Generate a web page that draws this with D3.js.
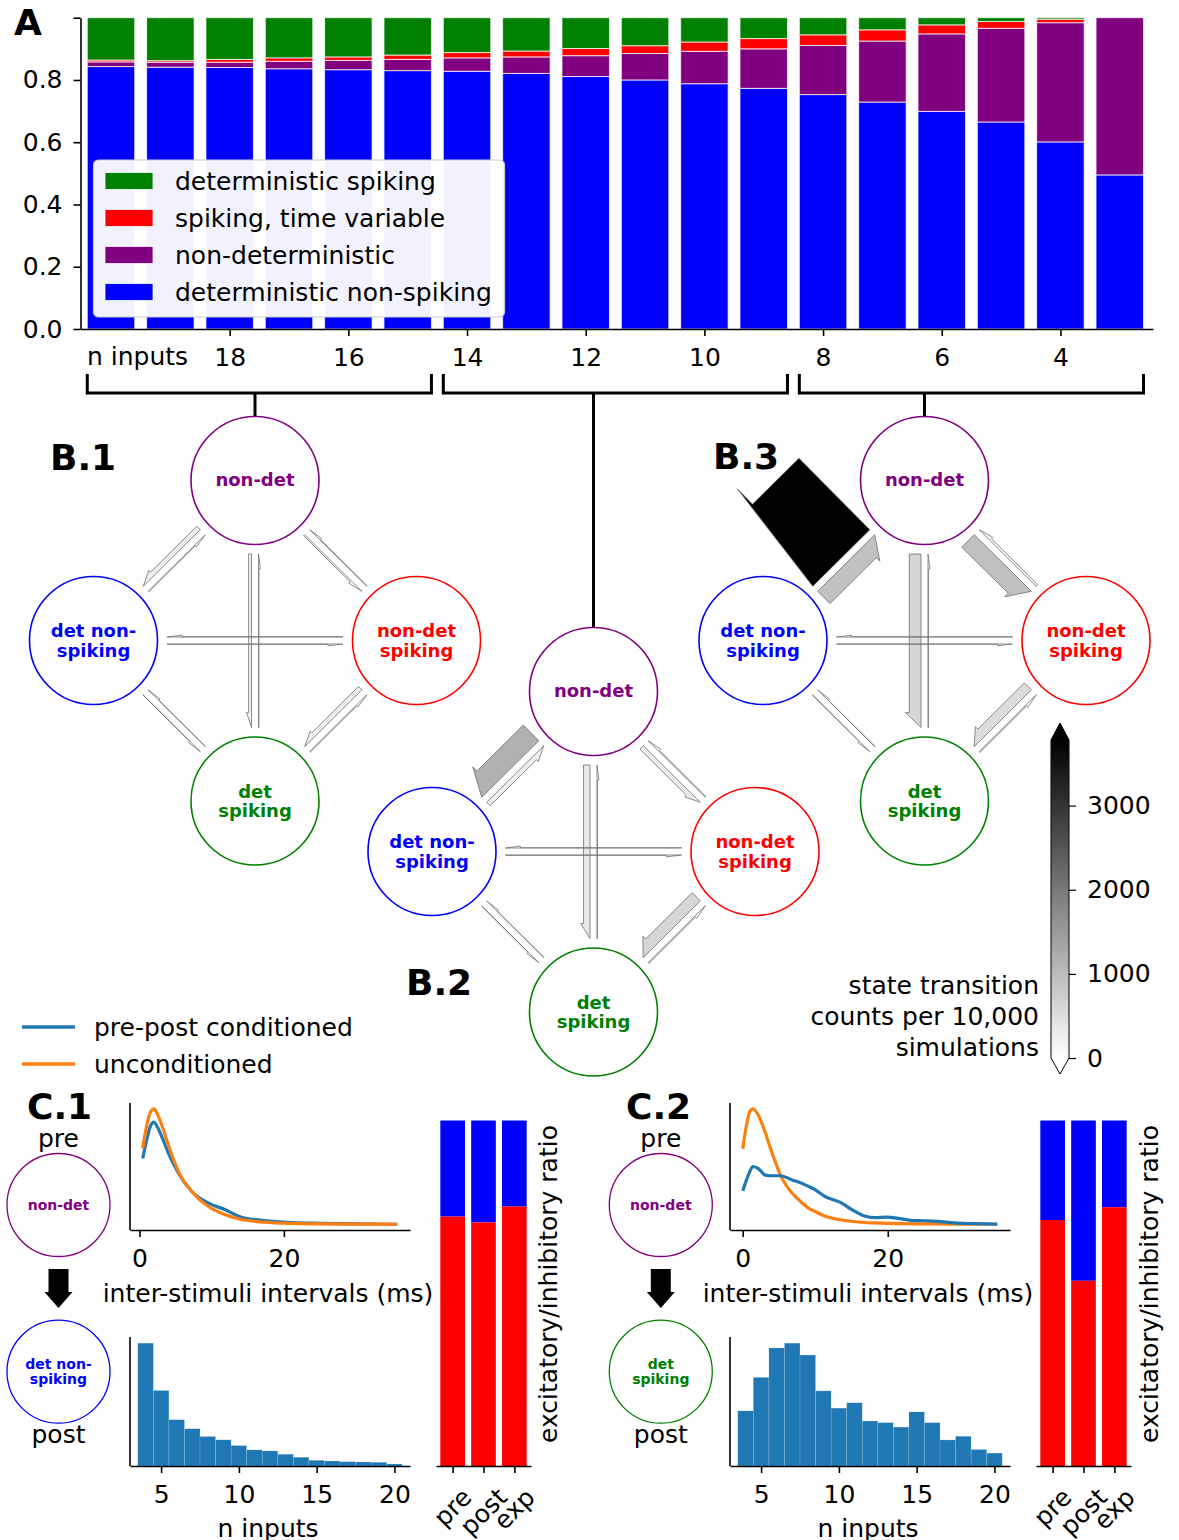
<!DOCTYPE html>
<html>
<head>
<meta charset="utf-8">
<script src="https://cdn.jsdelivr.net/npm/d3@7"></script>
<style>
  body { margin: 0; background: #fff; }
  svg text { font-family: "DejaVu Sans", sans-serif; }
</style>
</head>
<body>
<svg id="fig" width="1179" height="1540"></svg>
<script>
// ================= Panel A: state shares per number of inputs =================
const nInputs = [20, 19, 18, 17, 16, 15, 14, 13, 12, 11, 10, 9, 8, 7, 6, 5, 4, 3];
const shareDetNonSpiking = [0.843, 0.841, 0.840, 0.836, 0.833, 0.830, 0.828, 0.821, 0.811, 0.800, 0.788, 0.773, 0.753, 0.729, 0.699, 0.665, 0.601, 0.495];
const shareNonDet        = [0.015, 0.016, 0.017, 0.024, 0.030, 0.036, 0.043, 0.053, 0.067, 0.085, 0.104, 0.127, 0.158, 0.196, 0.249, 0.301, 0.383, 0.505];
const shareSpikingVar    = [0.006, 0.005, 0.009, 0.011, 0.011, 0.014, 0.017, 0.019, 0.023, 0.025, 0.030, 0.033, 0.034, 0.036, 0.029, 0.022, 0.011, 0.000];
const shareDetSpiking    = [0.136, 0.138, 0.134, 0.129, 0.126, 0.120, 0.112, 0.107, 0.099, 0.090, 0.078, 0.067, 0.055, 0.039, 0.023, 0.012, 0.005, 0.000];
const stateKeys   = ["detNonSpiking", "nonDet", "spikingVar", "detSpiking"];
const stateLabels = ["deterministic non-spiking", "non-deterministic", "spiking, time variable", "deterministic spiking"];
const stateColors = ["#0000ff", "#800080", "#ff0000", "#008000"];
const nTickValues = [18, 16, 14, 12, 10, 8, 6, 4];
const shareTickValues = [0, 0.2, 0.4, 0.6, 0.8, 1.0];
// groups of bars summarised by each transition diagram
const groupRanges = [[20, 15], [14, 9], [8, 3]];

// ================= Panel B: state transition counts =================
const nodeKeys = ["ND", "DNS", "NDS", "DS"];
const nodeText = { ND: ["non-det"], DNS: ["det non-", "spiking"], NDS: ["non-det", "spiking"], DS: ["det", "spiking"] };
const nodeColor = { ND: "#800080", DNS: "#0000ff", NDS: "#ff0000", DS: "#008000" };
const transFrom = ["ND", "DNS", "ND", "NDS", "ND", "DS", "DNS", "NDS", "DNS", "DS", "NDS", "DS"];
const transTo   = ["DNS", "ND", "NDS", "ND", "DS", "ND", "NDS", "DNS", "DS", "DNS", "DS", "NDS"];
const countsB1 = [260, 40, 80, 30, 150, 20, 15, 15, 15, 15, 250, 40];
const countsB2 = [1160, 260, 250, 60, 340, 20, 15, 15, 20, 15, 610, 60];
const countsB3 = [5300, 915, 930, 120, 615, 20, 10, 10, 20, 15, 520, 60];
const colorbarTicks = [0, 1000, 2000, 3000];
const colorMax = 3780;

// ================= Panel C: example transitions =================
const isiTimesC1 = [0.45, 1.0, 1.5, 2.0, 2.5, 3.1, 4.0, 5.4, 7.25, 9.5, 11.8, 14.1, 17.3, 21, 25, 30, 35.7];
const isiCondC1   = [0.570, 0.728, 0.848, 0.885, 0.840, 0.757, 0.617, 0.443, 0.285, 0.186, 0.129, 0.063, 0.034, 0.017, 0.010, 0.005, 0.002];
const isiUncondC1 = [0.657, 0.857, 0.968, 1.000, 0.951, 0.857, 0.686, 0.457, 0.285, 0.157, 0.086, 0.043, 0.020, 0.009, 0.005, 0.003, 0.002];
const isiTimesC2 = [0, 0.5, 1.0, 1.4, 2.2, 3.1, 4.0, 5.2, 6.8, 8.1, 9.0, 10, 11.3, 13.6, 15, 16.8, 18.2, 20, 21.4, 23.2, 25, 27.3, 29.6, 32, 35.1];
const isiCondC2   = [0.290, 0.380, 0.460, 0.500, 0.480, 0.425, 0.420, 0.420, 0.384, 0.356, 0.330, 0.298, 0.241, 0.185, 0.128, 0.071, 0.057, 0.062, 0.051, 0.034, 0.030, 0.023, 0.009, 0.005, 0.001];
const isiUncondC2 = [0.654, 0.853, 0.980, 1.000, 0.938, 0.795, 0.625, 0.426, 0.270, 0.190, 0.142, 0.110, 0.071, 0.037, 0.026, 0.015, 0.011, 0.007, 0.005, 0.004, 0.003, 0.002, 0.001, 0.001, 0.000];
const histBins = [4, 5, 6, 7, 8, 9, 10, 11, 12, 13, 14, 15, 16, 17, 18, 19, 20];
const histCountsC1 = [1220, 750, 460, 370, 293, 260, 203, 160, 150, 117, 87, 57, 50, 43, 40, 37, 20];
const histCountsC2 = [543, 873, 1163, 1210, 1093, 740, 570, 623, 443, 427, 383, 533, 427, 257, 293, 163, 127];
const eiGroups = ["pre", "post", "exp"];
const excitShareC1 = [0.722, 0.705, 0.751];
const excitShareC2 = [0.712, 0.536, 0.749];
const isiTicks = [0, 20];
const nInputTicks = [5, 10, 15, 20];

// ================================================================
const svg = d3.select("#fig");
const FS = 25;
const blueMpl = "#1f77b4", orangeMpl = "#ff7f0e";

function styleAxis(g, fs) {
  g.selectAll("path.domain").attr("stroke", "#000").attr("stroke-width", 1.6);
  g.selectAll(".tick line").attr("stroke", "#000").attr("stroke-width", 1.6);
  g.selectAll(".tick text").attr("fill", "#000").attr("font-size", fs || FS)
    .attr("font-family", "DejaVu Sans, sans-serif");
}

// ---------------- Panel A ----------------
const xA = d3.scaleLinear().domain([20.514, 2.44]).range([80.5, 1153]);
const yA = d3.scaleLinear().domain([0, 1]).range([329, 17.7]);
const barW = 0.8 * (xA(19) - xA(20));

const tableA = nInputs.map((n, i) => ({
  n,
  detNonSpiking: shareDetNonSpiking[i],
  nonDet: shareNonDet[i],
  spikingVar: shareSpikingVar[i],
  detSpiking: shareDetSpiking[i]
}));
const stackA = d3.stack().keys(stateKeys)(tableA);
const gA = svg.append("g");
gA.selectAll("g.layer").data(stackA).join("g").attr("class", "layer")
  .attr("fill", (d, i) => stateColors[i])
  .selectAll("rect").data(d => d).join("rect")
  .attr("x", d => xA(d.data.n) - barW / 2)
  .attr("width", barW)
  .attr("y", d => yA(d[1]))
  .attr("height", d => Math.max(0, yA(d[0]) - yA(d[1])))
  .attr("stroke", "#ffffff").attr("stroke-opacity", 0.75).attr("stroke-width", 1);

const axAy = gA.append("g").attr("transform", `translate(${xA.range()[0]},0)`)
  .call(d3.axisLeft(yA).tickValues(shareTickValues)
    .tickFormat(d => d === 1 ? "" : d3.format(".1f")(d))
    .tickSize(7).tickSizeOuter(0).tickPadding(11));
styleAxis(axAy);
const axAx = gA.append("g").attr("transform", `translate(0,${yA(0)})`)
  .call(d3.axisBottom(xA).tickValues(nTickValues).tickFormat(d3.format("d"))
    .tickSize(7).tickSizeOuter(0).tickPadding(12));
styleAxis(axAx);
gA.append("text").attr("x", 87).attr("y", 365).attr("font-size", FS).text("n inputs");
svg.append("text").attr("x", 14).attr("y", 35).attr("font-size", 36).attr("font-weight", "bold").text("A");

// legend of panel A
const legA = gA.append("g");
legA.append("rect").attr("x", 93.5).attr("y", 160).attr("width", 411).attr("height", 157)
  .attr("rx", 5).attr("fill", "#fff").attr("fill-opacity", 0.95)
  .attr("stroke", "#cccccc").attr("stroke-width", 1.2);
const legOrder = [3, 2, 1, 0];
legOrder.forEach((k, j) => {
  const cy = 181 + j * 37;
  legA.append("rect").attr("x", 105).attr("y", cy - 8.5).attr("width", 48).attr("height", 17)
    .attr("fill", stateColors[k]).attr("stroke", "#fff").attr("stroke-opacity", 0.75);
  legA.append("text").attr("x", 175).attr("y", cy + 9).attr("font-size", FS).text(stateLabels[k]);
});

// ---------------- Panel B ----------------
const R = 64, GAP = 9.5, HL = 15, OFF = 3.5;
const layout = { ND: [0, 0], DNS: [-161.5, 160], NDS: [161.5, 160], DS: [0, 320.5] };
const diagrams = [
  { label: "B.1", origin: [255, 480.5], counts: countsB1, labelPos: [50, 470] },
  { label: "B.2", origin: [593.5, 691.5], counts: countsB2, labelPos: [406, 995] },
  { label: "B.3", origin: [924.5, 480.5], counts: countsB3, labelPos: [713, 469] }
];
const widthScale = d3.scaleLinear().domain([0, 1000]).range([0, 19]);
const grayScale = d3.scaleLinear().domain([0, colorMax]).range(["#ffffff", "#000000"]).clamp(true);

function arrowPoints(a, b, w) {
  const dx = b[0] - a[0], dy = b[1] - a[1], L = Math.hypot(dx, dy);
  const ux = dx / L, uy = dy / L, nx = -uy, ny = ux;
  const s = [a[0] + ux * (R + GAP), a[1] + uy * (R + GAP)];
  const e = [b[0] - ux * (R + GAP), b[1] - uy * (R + GAP)];
  const hb = [e[0] - ux * HL, e[1] - uy * HL];
  const hw = 1.2 * w + 1.5;
  const p = (pt, o) => [pt[0] + nx * o, pt[1] + ny * o];
  return [p(s, OFF), p(s, OFF + w), p(hb, OFF + w), p(hb, OFF + hw), p(e, OFF)];
}

// brackets linking bar groups to diagrams
const gBr = svg.append("g").attr("stroke", "#000").attr("stroke-width", 3).attr("fill", "none");
groupRanges.forEach((rg, i) => {
  const x0 = xA(rg[0]) - barW / 2, x1 = xA(rg[1]) + barW / 2;
  const d = diagrams[i];
  gBr.append("path").attr("d", `M${x0},374 V393 H${x1} V374`);
  gBr.append("path").attr("d", `M${d.origin[0]},393 V${d.origin[1] - R}`);
});

diagrams.forEach(d => {
  const g = svg.append("g");
  const pos = k => [d.origin[0] + layout[k][0], d.origin[1] + layout[k][1]];
  const arrows = transFrom.map((f, i) => ({ from: f, to: transTo[i], count: d.counts[i] }));
  g.selectAll("polygon").data(arrows).join("polygon")
    .attr("points", a => arrowPoints(pos(a.from), pos(a.to), widthScale(a.count)).map(p => p.join(",")).join(" "))
    .attr("fill", a => grayScale(a.count))
    .attr("stroke", "#6e6e6e").attr("stroke-width", 0.8).attr("stroke-linejoin", "miter");
  nodeKeys.forEach(k => {
    const [cx, cy] = pos(k);
    g.append("circle").attr("cx", cx).attr("cy", cy).attr("r", R)
      .attr("fill", "none").attr("stroke", nodeColor[k]).attr("stroke-width", 1.6);
    const lines = nodeText[k];
    const base = lines.length === 1 ? [5] : [-3.5, 16];
    lines.forEach((t, j) => {
      g.append("text").attr("x", cx).attr("y", cy + base[j]).attr("text-anchor", "middle")
        .attr("font-size", 18).attr("font-weight", "bold").attr("fill", nodeColor[k]).text(t);
    });
  });
  svg.append("text").attr("x", d.labelPos[0]).attr("y", d.labelPos[1])
    .attr("font-size", 36).attr("font-weight", "bold").text(d.label);
});

// colorbar
const cbX = 1051, cbW = 18;
const yCb = d3.scaleLinear().domain([0, colorMax]).range([1058, 740]);
const defs = svg.append("defs");
const grad = defs.append("linearGradient").attr("id", "cbGrad")
  .attr("x1", 0).attr("y1", 1).attr("x2", 0).attr("y2", 0);
d3.range(0, 1.0001, 0.1).forEach(t => {
  grad.append("stop").attr("offset", t).attr("stop-color", grayScale(t * colorMax));
});
const gCb = svg.append("g");
gCb.append("rect").attr("x", cbX).attr("y", yCb(colorMax)).attr("width", cbW)
  .attr("height", yCb(0) - yCb(colorMax)).attr("fill", "url(#cbGrad)");
gCb.append("path").attr("d", `M${cbX},${yCb(colorMax)} L${cbX + cbW / 2},${yCb(colorMax) - 17} L${cbX + cbW},${yCb(colorMax)} Z`)
  .attr("fill", grayScale(colorMax));
gCb.append("path").attr("d", `M${cbX},${yCb(0)} L${cbX + cbW / 2},${yCb(0) + 16} L${cbX + cbW},${yCb(0)} Z`)
  .attr("fill", grayScale(0));
gCb.append("path")
  .attr("d", `M${cbX},${yCb(0)} V${yCb(colorMax)} L${cbX + cbW / 2},${yCb(colorMax) - 17} L${cbX + cbW},${yCb(colorMax)} V${yCb(0)} L${cbX + cbW / 2},${yCb(0) + 16} Z`)
  .attr("fill", "none").attr("stroke", "#000").attr("stroke-width", 1);
const axCb = gCb.append("g").attr("transform", `translate(${cbX + cbW},0)`)
  .call(d3.axisRight(yCb).tickValues(colorbarTicks).tickFormat(d3.format("d"))
    .tickSize(7).tickSizeOuter(0).tickPadding(11));
axCb.select("path.domain").remove();
styleAxis(axCb);
axCb.selectAll(".tick line").attr("stroke-width", 1.2);
["state transition", "counts per 10,000", "simulations"].forEach((t, i) => {
  gCb.append("text").attr("x", 1039).attr("y", 994 + i * 31).attr("text-anchor", "end")
    .attr("font-size", FS).text(t);
});

// ---------------- Panel C ----------------
// legend
[[blueMpl, "pre-post conditioned", 1027], [orangeMpl, "unconditioned", 1064]].forEach(([c, t, y]) => {
  svg.append("line").attr("x1", 22).attr("x2", 75).attr("y1", y).attr("y2", y)
    .attr("stroke", c).attr("stroke-width", 3.5);
  svg.append("text").attr("x", 94).attr("y", y + 9).attr("font-size", FS).text(t);
});

function padDomain(vals) {
  const [a, b] = d3.extent(vals), m = (b - a) * 0.05;
  return [a - m, b + m];
}

function drawExample(cfg) {
  const g = svg.append("g");
  const ox = cfg.ox; // left of the plot axes
  // title and state circles
  g.append("text").attr("x", cfg.titleX).attr("y", 1119).attr("font-size", 36)
    .attr("font-weight", "bold").text(cfg.title);
  const cx = cfg.circleX;
  g.append("text").attr("x", cx).attr("y", 1147).attr("text-anchor", "middle").attr("font-size", FS).text("pre");
  g.append("text").attr("x", cx).attr("y", 1443).attr("text-anchor", "middle").attr("font-size", FS).text("post");
  [[cfg.preState, 1205], [cfg.postState, 1371.7]].forEach(([k, cy]) => {
    g.append("circle").attr("cx", cx).attr("cy", cy).attr("r", 51.5)
      .attr("fill", "none").attr("stroke", nodeColor[k]).attr("stroke-width", 1.3);
    const lines = nodeText[k];
    const base = lines.length === 1 ? [4.5] : [-3, 12.5];
    lines.forEach((t, j) => g.append("text").attr("x", cx).attr("y", cy + base[j])
      .attr("text-anchor", "middle").attr("font-size", 14).attr("font-weight", "bold")
      .attr("fill", nodeColor[k]).text(t));
  });
  g.append("path")
    .attr("d", `M${cx - 10},1269 H${cx + 10} V1292 H${cx + 14} L${cx},1308 L${cx - 14},1292 H${cx - 10} Z`)
    .attr("fill", "#000");

  // inter-stimuli interval densities
  const xK = d3.scaleLinear().domain(padDomain(cfg.isiT)).range([ox, ox + 280]);
  const yK = d3.scaleLinear().domain(padDomain(cfg.isiCond.concat(cfg.isiUncond))).range([1230, 1103]);
  const line = d3.line().x((d, i) => xK(cfg.isiT[i])).y(d => yK(d)).curve(d3.curveMonotoneX);
  const series = cfg.orangeTop
    ? [[cfg.isiCond, blueMpl], [cfg.isiUncond, orangeMpl]]
    : [[cfg.isiUncond, orangeMpl], [cfg.isiCond, blueMpl]];
  series.forEach(([vals, col]) => {
    g.append("path").datum(vals).attr("d", line).attr("fill", "none")
      .attr("stroke", col).attr("stroke-width", 3.2).attr("stroke-linejoin", "round");
  });
  const axK = g.append("g").attr("transform", "translate(0,1230)")
    .call(d3.axisBottom(xK).tickValues(isiTicks).tickFormat(d3.format("d"))
      .tickSize(7).tickSizeOuter(0).tickPadding(12));
  styleAxis(axK);
  g.append("line").attr("x1", ox).attr("x2", ox).attr("y1", 1103).attr("y2", 1230)
    .attr("stroke", "#000").attr("stroke-width", 1.6);
  g.append("text").attr("x", ox + 138).attr("y", 1302).attr("text-anchor", "middle")
    .attr("font-size", FS).text("inter-stimuli intervals (ms)");

  // histogram of number of inputs
  const xH = d3.scaleLinear().domain([3, 21]).range([ox, ox + 280]);
  const yH = d3.scaleLinear().domain([0, d3.max(cfg.hist) * 1.05]).range([1466, 1337]);
  g.selectAll("rect.hb").data(cfg.hist).join("rect").attr("class", "hb")
    .attr("x", (d, i) => xH(histBins[i] - 0.5)).attr("width", xH(1) - xH(0))
    .attr("y", d => yH(d)).attr("height", d => yH(0) - yH(d))
    .attr("fill", blueMpl).attr("stroke", "#ffffff").attr("stroke-opacity", 0.25).attr("stroke-width", 0.6);
  const axH = g.append("g").attr("transform", "translate(0,1466)")
    .call(d3.axisBottom(xH).tickValues(nInputTicks).tickFormat(d3.format("d"))
      .tickSize(7).tickSizeOuter(0).tickPadding(12));
  styleAxis(axH);
  g.append("line").attr("x1", ox).attr("x2", ox).attr("y1", 1337).attr("y2", 1466)
    .attr("stroke", "#000").attr("stroke-width", 1.6);
  g.append("text").attr("x", ox + 138).attr("y", 1537).attr("text-anchor", "middle")
    .attr("font-size", FS).text("n inputs");

  // excitatory / inhibitory shares
  const xE = d3.scaleLinear().domain([-0.54, 2.54]).range([cfg.eiX0, cfg.eiX0 + 95]);
  const yE = d3.scaleLinear().domain([0, 1]).range([1466, 1120.5]);
  const bw = 0.8 * (xE(1) - xE(0));
  const eiRows = eiGroups.map((k, i) => ({ k, i, ex: cfg.ei[i] }));
  g.selectAll("rect.ein").data(eiRows).join("rect").attr("class", "ein")
    .attr("x", d => xE(d.i) - bw / 2).attr("width", bw)
    .attr("y", yE(1)).attr("height", d => yE(d.ex) - yE(1)).attr("fill", "#0000ff");
  g.selectAll("rect.eex").data(eiRows).join("rect").attr("class", "eex")
    .attr("x", d => xE(d.i) - bw / 2).attr("width", bw)
    .attr("y", d => yE(d.ex)).attr("height", d => yE(0) - yE(d.ex)).attr("fill", "#ff0000");
  const axE = g.append("g").attr("transform", "translate(0,1466)")
    .call(d3.axisBottom(xE).tickValues([0, 1, 2]).tickFormat(() => "").tickSize(7).tickSizeOuter(0));
  styleAxis(axE);
  eiRows.forEach(d => {
    const t = g.append("text").attr("font-size", FS).attr("text-anchor", "middle")
      .attr("dominant-baseline", "central").text(d.k);
    const w = t.node().getComputedTextLength();
    const half = (w + 28) * Math.SQRT1_2 / 2;
    t.attr("transform", `translate(${xE(d.i)},${1483 + half}) rotate(-45)`);
  });
  g.append("text").attr("transform", `translate(${cfg.eiLabelX},1284) rotate(-90)`)
    .attr("text-anchor", "middle").attr("font-size", FS).text("excitatory/inhibitory ratio");
}

drawExample({
  title: "C.1", titleX: 27, circleX: 58.5, ox: 130,
  preState: "ND", postState: "DNS",
  isiT: isiTimesC1, isiCond: isiCondC1, isiUncond: isiUncondC1, orangeTop: true,
  hist: histCountsC1, ei: excitShareC1, eiX0: 436, eiLabelX: 557
});
drawExample({
  title: "C.2", titleX: 626, circleX: 660.8, ox: 730,
  preState: "ND", postState: "DS",
  isiT: isiTimesC2, isiCond: isiCondC2, isiUncond: isiUncondC2, orangeTop: false,
  hist: histCountsC2, ei: excitShareC2, eiX0: 1036, eiLabelX: 1157.5
});
</script>
</body>
</html>
